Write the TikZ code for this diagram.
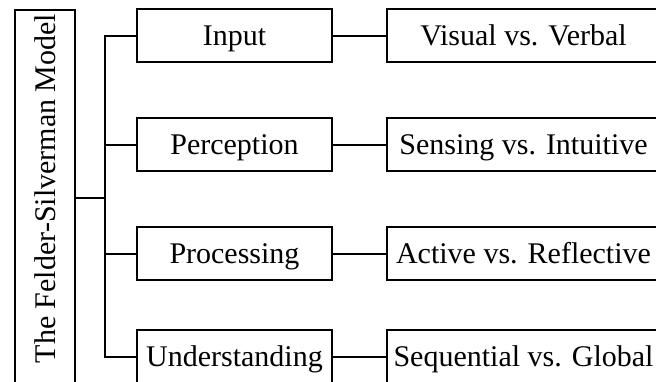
\documentclass[tikz,border=0pt]{standalone}
\usepackage{fontspec}
\setmainfont{Liberation Serif}
\begin{document}
\begin{tikzpicture}[x=1pt, y=-1pt,
  every node/.style={font=\fontsize{30}{36}\selectfont, inner sep=0pt},
  link/.style={line width=2pt},
  dimbox/.style={draw, line width=2pt, minimum width=195pt, minimum height=53pt,
                 text height=20pt, text depth=0pt},
  stylebox/.style={draw, line width=2pt, minimum width=273pt, minimum height=53pt,
                   text height=20pt, text depth=0pt}]
  \clip (0,0) rectangle (656,381);

  % model box on the left, cut off at the lower edge
  \node[draw, line width=2pt, minimum width=60pt, minimum height=420pt, anchor=north west]
    (modelbox) at (14,9) {};
  \node[rotate=90] (modeltext) at (45.5,188.5) {The Felder-Silverman Model};

  % dimensions
  \node[dimbox] (in) at (234.5,35.5)  {Input};
  \node[dimbox] (pe) at (234.5,144.5) {Perception};
  \node[dimbox] (pr) at (234.5,253.5) {Processing};
  \node[dimbox] (un) at (234.5,356.5) {Understanding};

  % learning style pairs
  \node[stylebox] (vi) at (523.5,35.5)  {Visual vs. Verbal};
  \node[stylebox] (se) at (523.5,144.5) {Sensing vs. Intuitive};
  \node[stylebox] (ac) at (523.5,253.5) {Active vs. Reflective};
  \node[stylebox] (sq) at (523.5,356.5) {Sequential vs. Global};

  % tree connectors
  \coordinate (hub) at (105,198);
  \draw[link] (modelbox.east |- hub) -- (hub);
  \draw[link] (in.west) -| (hub) |- (un.west);
  \draw[link] (pe.west) -- (pe.west -| hub);
  \draw[link] (pr.west) -- (pr.west -| hub);

  \draw[link] (in.east) -- (vi.west);
  \draw[link] (pe.east) -- (se.west);
  \draw[link] (pr.east) -- (ac.west);
  \draw[link] (un.east) -- (sq.west);
\end{tikzpicture}
\end{document}
